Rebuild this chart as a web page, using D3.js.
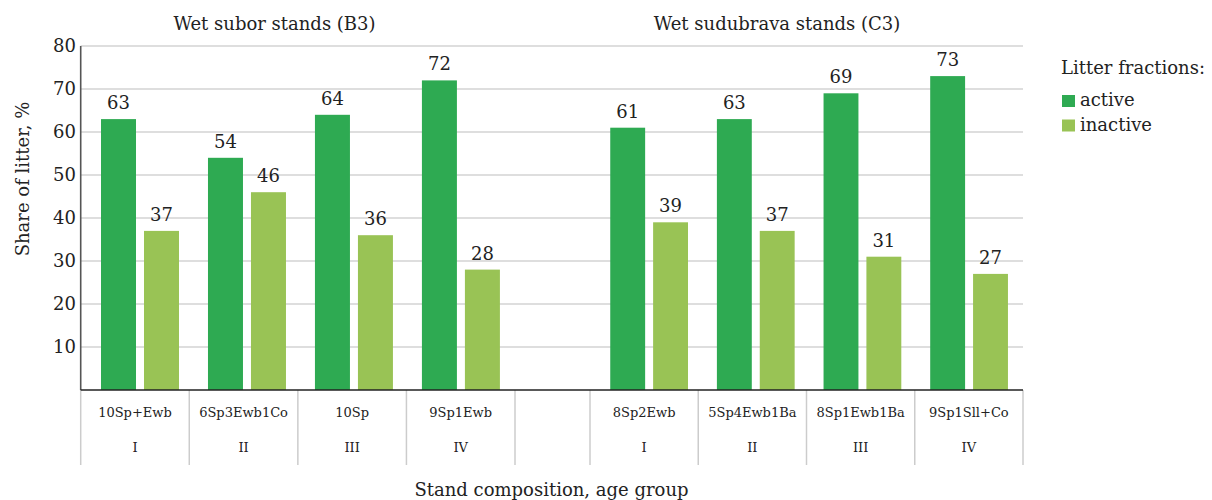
<!DOCTYPE html>
<html><head><meta charset="utf-8">
<script src="https://cdn.jsdelivr.net/npm/d3@7/dist/d3.min.js"></script>
<style>body{margin:0;background:#fff;} text{font-family:"DejaVu Serif",serif;fill:#222;}</style>
</head><body><svg id="c" width="1212" height="500"></svg>
<script>
const groups = ["Wet subor stands (B3)", "Wet sudubrava stands (C3)"];
const compB3 = ["10Sp+Ewb", "6Sp3Ewb1Co", "10Sp", "9Sp1Ewb"];
const compC3 = ["8Sp2Ewb", "5Sp4Ewb1Ba", "8Sp1Ewb1Ba", "9Sp1Sll+Co"];
const ageGroups = ["I", "II", "III", "IV"];
const activeB3 = [63, 54, 64, 72];
const inactiveB3 = [37, 46, 36, 28];
const activeC3 = [61, 63, 69, 73];
const inactiveC3 = [39, 37, 31, 27];
const seriesNames = ["active", "inactive"];
const yTicks = [10, 20, 30, 40, 50, 60, 70, 80];
const colors = {active: "#2eaa52", inactive: "#99c355"};

const svg = d3.select("#c");
const y = d3.scaleLinear().domain([0, 80]).range([390, 46]);
const xB = d3.scaleBand().domain(compB3).range([80.7, 515]);
const xC = d3.scaleBand().domain(compC3).range([590, 1023]);
const plotLeft = 80.7, plotRight = 1023, base = y(0);

// gridlines
svg.append("g").selectAll("line").data(yTicks).join("line")
  .attr("x1", plotLeft).attr("x2", plotRight)
  .attr("y1", d => y(d)).attr("y2", d => y(d))
  .attr("stroke", "#bdbdbd").attr("stroke-width", 1.2);

// y tick labels
svg.append("g").selectAll("text").data(yTicks).join("text")
  .attr("x", 76).attr("y", d => y(d)).attr("dy", "0.36em")
  .attr("text-anchor", "end").style("font-size", "18px").text(d => d);

const grp = [
  {x: xB, comp: compB3, vals: {active: activeB3, inactive: inactiveB3}},
  {x: xC, comp: compC3, vals: {active: activeC3, inactive: inactiveC3}}
];

grp.forEach(g => {
  const xBar = g.x.copy().paddingOuter(0.03);
  const inner = d3.scaleBand().domain(seriesNames).range([0, xBar.bandwidth()])
    .paddingInner(0.186).paddingOuter(0.337).align(0.59);
  g.comp.forEach((c, i) => {
    seriesNames.forEach(s => {
      const v = g.vals[s][i];
      const bx = xBar(c) + inner(s);
      svg.append("rect").attr("x", bx).attr("y", y(v))
        .attr("width", inner.bandwidth()).attr("height", base - y(v))
        .attr("fill", colors[s]);
      svg.append("text").attr("x", bx + inner.bandwidth() / 2).attr("y", y(v) - 10)
        .attr("text-anchor", "middle").style("font-size", "18px").text(v);
    });
    svg.append("text").attr("x", g.x(c) + g.x.bandwidth() / 2).attr("y", 412).attr("dy", "0.36em")
      .attr("text-anchor", "middle").style("font-size", "13px").text(c);
    svg.append("text").attr("x", g.x(c) + g.x.bandwidth() / 2).attr("y", 447).attr("dy", "0.36em")
      .attr("text-anchor", "middle").style("font-size", "13px").text(ageGroups[i]);
  });
});

// category separators
const seps = compB3.map(c => xB(c)).concat([xB.range()[1]], compC3.map(c => xC(c)), [xC.range()[1]]);
svg.append("g").selectAll("line").data(seps).join("line")
  .attr("x1", d => d).attr("x2", d => d).attr("y1", base).attr("y2", 465)
  .attr("stroke", "#cccccc").attr("stroke-width", 1.5);

// axes lines
svg.append("line").attr("x1", plotLeft).attr("x2", plotLeft).attr("y1", y(80)).attr("y2", base)
  .attr("stroke", "#555").attr("stroke-width", 1.6);
svg.append("line").attr("x1", plotLeft).attr("x2", plotRight).attr("y1", base).attr("y2", base)
  .attr("stroke", "#222").attr("stroke-width", 1.4);

// group titles
svg.append("text").attr("x", 274.5).attr("y", 30).attr("text-anchor", "middle").style("font-size", "18px").text(groups[0]);
svg.append("text").attr("x", 777).attr("y", 30).attr("text-anchor", "middle").style("font-size", "18px").text(groups[1]);

// axis titles
svg.append("text").attr("transform", "translate(29,179) rotate(-90)").attr("text-anchor", "middle")
  .style("font-size", "18px").text("Share of litter, %");
svg.append("text").attr("x", 551.5).attr("y", 496).attr("text-anchor", "middle")
  .style("font-size", "18px").text("Stand composition, age group");

// legend
svg.append("text").attr("x", 1061).attr("y", 74).style("font-size", "18px").text("Litter fractions:");
seriesNames.forEach((s, i) => {
  const ly = 95 + i * 24.5;
  svg.append("rect").attr("x", 1062).attr("y", ly).attr("width", 13).attr("height", 12).attr("fill", colors[s]);
  svg.append("text").attr("x", 1080).attr("y", ly + 11).style("font-size", "18px").text(s);
});
</script></body></html>
